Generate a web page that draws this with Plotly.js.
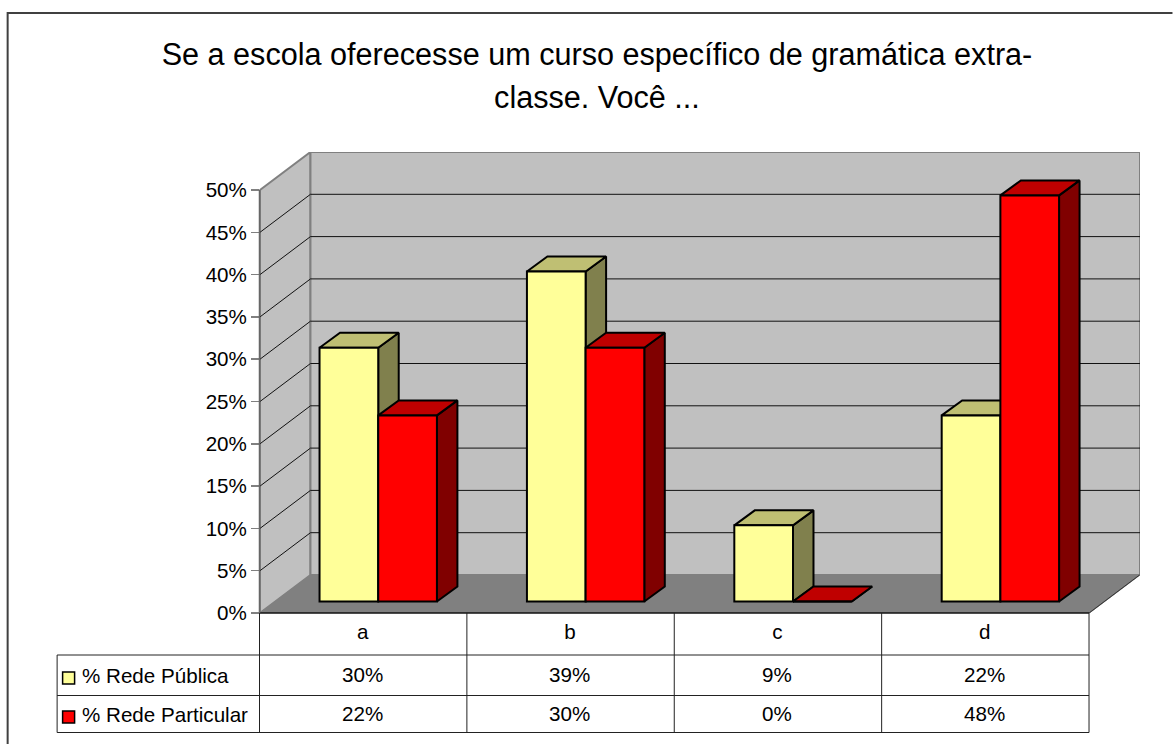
<!DOCTYPE html>
<html><head><meta charset="utf-8">
<script src="https://cdn.plot.ly/plotly-3.0.1.min.js"></script>
<style>html,body{margin:0;padding:0;background:#fff;overflow:hidden}#c{width:1173px;height:744px}</style>
</head><body><div id="c"></div>
<script>
const categories = ['a','b','c','d'];
const seriesNames = ['% Rede Pública','% Rede Particular'];
const redePublica = [30,39,9,22];
const redeParticular = [22,30,0,48];
const yTicks = [0,5,10,15,20,25,30,35,40,45,50];
const titleLines = 'Se a escola oferecesse um curso específico de gramática extra-<br>classe. Você ...';
const FONT = '"Liberation Sans", Arial, sans-serif';

// frame geometry
const W=1173,H=744,L=260,R=1140.5,T=152,B=613;
const catPx=207.5, pctPx=8.46;
const xMax=(R-L)/catPx, yMax=(B-T)/pctPx;
const wallDx=50.5/catPx, wallDy=38/pctPx;
const barZeroX=378.3, barZeroY=601.5;
const bx0=(L-barZeroX)/catPx, by0=-(B-barZeroY)/pctPx;
const barW=0.283, bdx=20.5/catPx, bdy=15/pctPx;
const px=x=>(x-L)/(R-L), py=y=>(B-y)/(B-T);

function faces(vals,k){
  const sx=[],sy=[],tx=[],ty=[];
  vals.forEach((v,i)=>{
    const xl=i+(k-1)*barW, xr=xl+barW;
    sx.push(xr,xr+bdx,xr+bdx,xr,xr,null); sy.push(0,bdy,v+bdy,v,0,null);
    tx.push(xl,xl+bdx,xr+bdx,xr,xl,null); ty.push(v,v+bdy,v+bdy,v,v,null);
  });
  return {sx,sy,tx,ty};
}
const poly=(x,y,fill,name)=>({type:'scatter',mode:'lines',x,y,xaxis:'x2',yaxis:'y2',fill:'toself',fillcolor:fill,
  line:{color:'#000',width:2,simplify:false},hoverinfo:'skip',showlegend:false,name});
const f0=faces(redePublica,0), f1=faces(redeParticular,1);
const data=[
  {type:'scatter',mode:'lines',x:[0],y:[0],xaxis:'x',yaxis:'y',line:{color:'rgba(0,0,0,0)'},showlegend:false,hoverinfo:'skip'},
  poly(f0.sx,f0.sy,'#80804D','side pub'),
  poly(f0.tx,f0.ty,'#BFBF73','top pub'),
  poly(f1.sx,f1.sy,'#800000','side part'),
  poly(f1.tx,f1.ty,'#BF0000','top part'),
  {type:'bar',name:seriesNames[0],x:[0,1,2,3],y:redePublica,xaxis:'x3',yaxis:'y3',marker:{color:'#FFFF99',line:{color:'#000',width:2}},showlegend:false},
  {type:'bar',name:seriesNames[1],x:[0,1,2,3],y:redeParticular,xaxis:'x3',yaxis:'y3',marker:{color:'#FF0000',line:{color:'#000',width:2}},showlegend:false}
];

const shapes=[];
const path=(d,fill,col,w)=>shapes.push({type:'path',xref:'x',yref:'y',layer:'below',path:d,fillcolor:fill,line:{color:col,width:w}});
path(`M0,0L0,50L${wallDx},${50+wallDy}L${wallDx},${wallDy}Z`,'#C0C0C0','#808080',2);
path(`M${wallDx},${wallDy}L${wallDx},${50+wallDy}L${xMax},${50+wallDy}L${xMax},${wallDy}Z`,'#C0C0C0','#808080',2);
path(`M0,0L${wallDx},${wallDy}L${xMax},${wallDy}L4,0Z`,'#808080','#808080',1);
yTicks.filter(v=>v>0&&v<50).forEach(v=>{
  shapes.push({type:'line',xref:'x',yref:'y',layer:'below',x0:0,y0:v,x1:wallDx,y1:v+wallDy,line:{color:'#111',width:1}});
  shapes.push({type:'line',xref:'x',yref:'y',layer:'below',x0:wallDx,y0:v+wallDy,x1:xMax,y1:v+wallDy,line:{color:'#111',width:1}});
});
// floor outer edge
const paperLine=(x0,y0,x1,y1,col,w)=>shapes.push({type:'line',xref:'paper',yref:'paper',x0:px(x0),y0:py(y0),x1:px(x1),y1:py(y1),line:{color:col,width:w}});
paperLine(1089.5,613,1140,575,'#333',1);
paperLine(260,613,1089.5,613,'#111',1.5);
// left axis line
paperLine(259.5,189.5,259.5,613,'#666',1.5);
// table
const rowY=[655,695.5,732.5];
rowY.forEach(y=>paperLine(57,y,1089.5,y,'#222',1));
[259.5,467,674.5,882,1089.5].forEach(x=>paperLine(x,613,x,732.5,'#222',1));
paperLine(57,655,57,732.5,'#222',1);
// outer frame
shapes.push({type:'path',xref:'paper',yref:'paper',path:`M${px(1173)},${py(13)}L${px(7.5)},${py(13)}L${px(7.5)},${py(744)}`,line:{color:'#404040',width:2}});
// legend keys
const key=(y0,y1,c)=>shapes.push({type:'rect',xref:'paper',yref:'paper',x0:px(62.5),x1:px(74.5),y0:py(y0),y1:py(y1),fillcolor:c,line:{color:'#000',width:1.5}});
key(672,684,'#FFFF99'); key(711,723,'#FF0000');

const annotations=[];
const tfont={family:FONT,size:20.6,color:'#000'};
const note=(text,x,y,anchor)=>annotations.push({text,xref:'paper',yref:'paper',x:px(x),y:py(y),xanchor:anchor,yanchor:'middle',showarrow:false,font:tfont,borderpad:0,borderwidth:0});
seriesNames.forEach((n,r)=>note(n,82,[675.5,714.5][r],'left'));
[redePublica,redeParticular].forEach((vals,r)=>vals.forEach((v,i)=>note(v+'%',362.5+i*catPx,[674.5,713.5][r],'center')));

const layout={
  width:W,height:H,margin:{l:L,r:W-R,t:T,b:H-B,pad:0},paper_bgcolor:'#fff',plot_bgcolor:'rgba(0,0,0,0)',
  font:{family:FONT,color:'#000',size:20.6},showlegend:false,
  title:{text:'<span style="font-size:30.6px">'+titleLines.replace('<br>','</span><br><span style="font-size:30.6px">')+'</span>',xref:'container',yref:'container',x:597/W,xanchor:'center',y:1-65/H,yanchor:'top',font:{family:FONT,size:33,color:'#000'}},
  barmode:'group',bargap:1-2*barW,bargroupgap:0,
  xaxis:{type:'linear',range:[0,xMax],tickmode:'array',tickvals:categories.map((c,i)=>i+0.495),ticktext:categories,ticks:'',showgrid:false,zeroline:false,showline:false,tickfont:tfont,ticklabelstandoff:4,fixedrange:true},
  yaxis:{type:'linear',range:[0,yMax],tickmode:'array',tickvals:yTicks,ticktext:yTicks.map(v=>v+'%'),ticks:'outside',ticklen:8,tickwidth:1.5,tickcolor:'#808080',showgrid:false,zeroline:false,showline:false,tickfont:tfont,fixedrange:true},
  xaxis2:{type:'linear',overlaying:'x',anchor:'y2',range:[bx0,bx0+xMax],visible:false,fixedrange:true},
  yaxis2:{type:'linear',overlaying:'y',anchor:'x2',range:[by0,by0+yMax],visible:false,fixedrange:true},
  xaxis3:{type:'linear',overlaying:'x',anchor:'y3',range:[bx0,bx0+xMax],visible:false,fixedrange:true},
  yaxis3:{type:'linear',overlaying:'y',anchor:'x3',range:[by0,by0+yMax],visible:false,fixedrange:true},
  shapes,annotations
};
Plotly.newPlot('c',data,layout,{displayModeBar:false,staticPlot:true});
</script></body></html>
